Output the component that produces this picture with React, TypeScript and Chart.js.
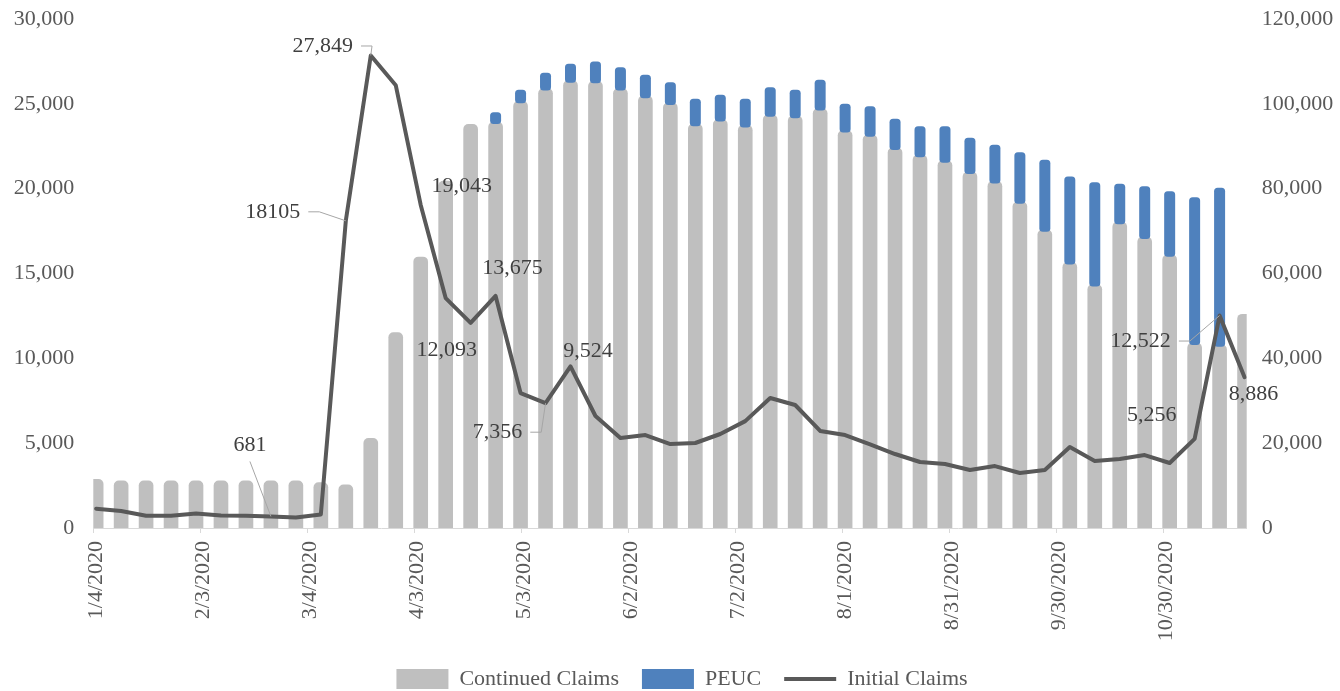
import { useEffect, useRef } from 'react';
import { Chart, registerables } from 'chart.js';

Chart.register(...registerables);

// ---- data (weekly) ----
const weekEnding = [
  '1/4/2020', '1/11/2020', '1/18/2020', '1/25/2020', '2/1/2020', '2/8/2020', '2/15/2020', '2/22/2020',
  '2/29/2020', '3/7/2020', '3/14/2020', '3/21/2020', '3/28/2020', '4/4/2020', '4/11/2020', '4/18/2020',
  '4/25/2020', '5/2/2020', '5/9/2020', '5/16/2020', '5/23/2020', '5/30/2020', '6/6/2020', '6/13/2020',
  '6/20/2020', '6/27/2020', '7/4/2020', '7/11/2020', '7/18/2020', '7/25/2020', '8/1/2020', '8/8/2020',
  '8/15/2020', '8/22/2020', '8/29/2020', '9/5/2020', '9/12/2020', '9/19/2020', '9/26/2020', '10/3/2020',
  '10/10/2020', '10/17/2020', '10/24/2020', '10/31/2020', '11/7/2020', '11/14/2020', '11/21/2020',
];

const continuedClaims = [
  11480, 11100, 11100, 11100, 11100, 11100, 11100, 11100,
  11100, 10700, 10150, 21150, 46050, 63900, 81800, 95180,
  95700, 100600, 103600, 105450, 105300, 103600, 101800, 100200,
  95200, 96300, 94900, 97400, 97100, 98900, 93700, 92700,
  89600, 87900, 86600, 83900, 81700, 76900, 70300, 62600,
  57400, 72100, 68600, 64400, 43600, 43200, 50400,
];

const peuc: (number | null)[] = [
  null, null, null, null, null, null, null, null,
  null, null, null, null, null, null, null, null,
  1850, 2230, 3240, 3510, 4200, 4560, 4570, 4420,
  5510, 5350, 5810, 6050, 5730, 6290, 5830, 6270,
  6390, 6350, 7650, 7620, 8170, 11220, 16030, 19790,
  23650, 8570, 11510, 14530, 33910, 36530, null,
];

const initialClaims = [
  1140, 1000, 720, 720, 850, 730, 720, 681,
  620, 800, 18105, 27849, 26100, 19043, 13550, 12093,
  13675, 7950, 7356, 9524, 6600, 5300, 5480, 4950,
  5010, 5540, 6300, 7660, 7250, 5720, 5480, 4930,
  4360, 3890, 3770, 3420, 3650, 3240, 3420, 4770,
  3950, 4070, 4300, 3830, 5256, 12522, 8886,
];

const xTickDays = [0, 30, 60, 90, 120, 150, 180, 210, 240, 270, 300];
const xTickLabels = [
  '1/4/2020', '2/3/2020', '3/4/2020', '4/3/2020', '5/3/2020', '6/2/2020',
  '7/2/2020', '8/1/2020', '8/31/2020', '9/30/2020', '10/30/2020',
];

const leftMax = 30000;
const leftStep = 5000;
const rightMax = 120000;
const rightStep = 20000;

// ---- label annotations for Initial Claims (offsets in px from point) ----
type LabelSpec = { index: number; dx: number; dy: number; leader?: 'side' | 'below'; plain?: boolean };
const lineLabels: LabelSpec[] = [
  { index: 7, dx: -21, dy: -71, leader: 'below' },
  { index: 10, dx: -73, dy: -9, leader: 'side', plain: true },
  { index: 11, dx: -48, dy: -9.5, leader: 'side' },
  { index: 13, dx: 41, dy: -19 },
  { index: 15, dx: -24, dy: 27 },
  { index: 16, dx: 17, dy: -28 },
  { index: 18, dx: -48, dy: 29, leader: 'side' },
  { index: 19, dx: 17.5, dy: -15 },
  { index: 44, dx: -43, dy: -24 },
  { index: 45, dx: -79, dy: 25.5, leader: 'side' },
  { index: 46, dx: 9, dy: 17 },
];

const axisStartDay = -0.8;
const axisEndDay = 322.6;

// legend placement tweak (px) relative to the library's centred position
const legendShiftX = 12;
const legendShiftY = 4;

const FONT = 'Liberation Serif';
const TEXT = '#595959';

function dayOffset(label: string): number {
  const [m, d, y] = label.split('/').map(Number);
  return (Date.UTC(y, m - 1, d) - Date.UTC(2020, 0, 4)) / 86400000;
}

const fmt = (v: number) => Number(v).toLocaleString('en-US');

const lineLabelPlugin = {
  id: 'lineLabels',
  afterDatasetsDraw(chart: any) {
    const meta = chart.getDatasetMeta(0);
    const ctx: CanvasRenderingContext2D = chart.ctx;
    ctx.save();
    ctx.font = `22px "${FONT}"`;
    ctx.textAlign = 'center';
    ctx.textBaseline = 'middle';
    for (const spec of lineLabels) {
      const pt = meta.data[spec.index];
      if (!pt) continue;
      const value = initialClaims[spec.index];
      const text = spec.plain ? String(value) : fmt(value);
      const cx = pt.x + spec.dx;
      const cy = pt.y + spec.dy;
      const w = ctx.measureText(text).width;
      if (spec.leader) {
        ctx.strokeStyle = '#a6a6a6';
        ctx.lineWidth = 1;
        ctx.beginPath();
        if (spec.leader === 'side') {
          ctx.moveTo(cx + w / 2 + 8, cy);
          ctx.lineTo(cx + w / 2 + 19, cy);
          ctx.lineTo(pt.x, pt.y);
        } else {
          ctx.moveTo(cx, cy + 16);
          ctx.lineTo(pt.x, pt.y);
        }
        ctx.stroke();
      }
      ctx.fillStyle = '#404040';
      ctx.fillText(text, cx, cy);
    }
    ctx.restore();
  },
};

const legendShiftPlugin = {
  id: 'legendShift',
  afterLayout(chart: any) {
    const lg = chart.legend;
    if (!lg) return;
    lg.left += legendShiftX;
    lg.right += legendShiftX;
    lg.top += legendShiftY;
    lg.bottom += legendShiftY;
  },
};

export default function App() {
  const canvasRef = useRef<HTMLCanvasElement | null>(null);

  useEffect(() => {
    if (!canvasRef.current) return;
    const days = weekEnding.map(dayOffset);
    const font = { family: FONT, size: 22 };

    const chart = new Chart(canvasRef.current, {
      type: 'bar',
      data: {
        datasets: [
          {
            type: 'line',
            label: 'Initial Claims',
            data: days.map((x, i) => ({ x, y: initialClaims[i] })),
            xAxisID: 'x',
            yAxisID: 'y',
            borderColor: '#595959',
            backgroundColor: '#595959',
            borderWidth: 4,
            pointBorderWidth: 4,
            pointRadius: 0,
            pointHoverRadius: 0,
            pointStyle: 'line',
            tension: 0,
            borderJoinStyle: 'round',
            borderCapStyle: 'round',
            order: 0,
          } as any,
          {
            type: 'bar',
            label: 'PEUC',
            data: days
              .map((x, i) => (peuc[i] == null ? null : { x, y: [continuedClaims[i], continuedClaims[i] + (peuc[i] as number)] }))
              .filter((p) => p !== null),
            xAxisID: 'x',
            yAxisID: 'y1',
            backgroundColor: '#4f81bd',
            barThickness: 7,
            inflateAmount: 2,
            borderRadius: 3.5,
            borderSkipped: false,
            grouped: false,
            pointStyle: 'rect',
            order: 1,
          } as any,
          {
            type: 'bar',
            label: 'Continued Claims',
            data: days.map((x, i) => ({ x, y: continuedClaims[i] })),
            xAxisID: 'x',
            yAxisID: 'y1',
            backgroundColor: '#bfbfbf',
            barThickness: 14,
            borderRadius: { topLeft: 5, topRight: 5, bottomLeft: 0, bottomRight: 0 },
            borderSkipped: 'start',
            grouped: false,
            pointStyle: 'rect',
            order: 2,
          } as any,
        ],
      },
      options: {
        animation: false,
        responsive: true,
        maintainAspectRatio: false,
        layout: { padding: { left: 0, right: 0, top: 19, bottom: -5 } },
        plugins: {
          legend: {
            position: 'bottom',
            reverse: true,
            labels: {
              usePointStyle: true,
              pointStyleWidth: 52,
              boxHeight: 20,
              padding: 23,
              color: TEXT,
              font,
            },
          },
          tooltip: { enabled: false },
        },
        scales: {
          x: {
            type: 'linear',
            min: axisStartDay,
            max: axisEndDay,
            offset: false,
            bounds: 'data',
            afterBuildTicks: (scale: any) => {
              scale.ticks = xTickDays.map((d) => ({ value: d + axisStartDay }));
            },
            afterFit: (scale: any) => {
              scale.height = 113;
            },
            ticks: {
              autoSkip: false,
              maxRotation: 90,
              minRotation: 90,
              padding: 8,
              labelOffset: 3,
              color: TEXT,
              font,
              callback: (_v: any, i: number) => xTickLabels[i],
            },
            grid: {
              display: true,
              drawOnChartArea: false,
              drawTicks: true,
              tickLength: 5,
              color: '#d9d9d9',
              offset: false,
            },
            border: { display: true, color: '#d9d9d9', width: 1 },
          } as any,
          y: {
            type: 'linear',
            position: 'left',
            min: 0,
            max: leftMax,
            afterFit: (scale: any) => {
              scale.width = 93.3;
              scale.paddingTop = 13;
              scale.paddingBottom = 13;
            },
            ticks: {
              stepSize: leftStep,
              padding: 19,
              color: TEXT,
              font,
              callback: (v: any) => fmt(v),
            },
            grid: { display: false, drawTicks: false, tickLength: 0 },
            border: { display: false },
          } as any,
          y1: {
            type: 'linear',
            position: 'right',
            min: 0,
            max: rightMax,
            afterFit: (scale: any) => {
              scale.width = 93.3;
              scale.paddingTop = 13;
              scale.paddingBottom = 13;
            },
            ticks: {
              stepSize: rightStep,
              padding: 15,
              color: TEXT,
              font,
              callback: (v: any) => fmt(v),
            },
            grid: { display: false, drawTicks: false, tickLength: 0 },
            border: { display: false },
          } as any,
        },
      },
      plugins: [lineLabelPlugin, legendShiftPlugin],
    });

    return () => chart.destroy();
  }, []);

  return (
    <div style={{ position: 'fixed', left: 0, top: 0, width: 1340, height: 691, background: '#ffffff' }}>
      <canvas ref={canvasRef} />
    </div>
  );
}
